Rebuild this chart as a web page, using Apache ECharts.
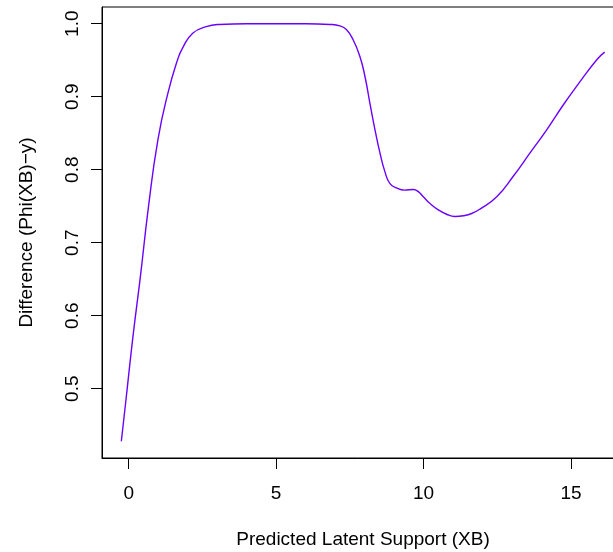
<!DOCTYPE html>
<html>
<head>
<meta charset="utf-8">
<script src="https://cdn.jsdelivr.net/npm/echarts@6/dist/echarts.min.js"></script>
<style>
  html, body { margin: 0; padding: 0; background: #fff; }
  #chart { width: 613px; height: 552px; }
</style>
</head>
<body>
<div id="chart"></div>
<script>
// Predicted latent support (XB) and the difference Phi(XB) - y along it
const xb = [-0.25, -0.09, 0.14, 0.40, 0.67, 0.99, 1.33, 1.66, 1.83, 2.17, 2.63, 3.08,
            4.0, 5.0, 6.0, 6.82, 7.16, 7.38, 7.61, 7.84, 8.01, 8.18, 8.35, 8.52, 8.69, 8.86,
            9.08, 9.36, 9.65, 9.82, 9.99, 10.21, 10.5, 10.78, 11.06, 11.35, 11.63, 11.91,
            12.48, 13.04, 13.61, 14.18, 14.74, 15.31, 15.88, 16.14];
const diff = [0.428, 0.486, 0.570, 0.655, 0.749, 0.841, 0.905, 0.951, 0.967, 0.987, 0.996, 0.999,
              1.0, 1.0, 1.0, 0.999, 0.997, 0.992, 0.978, 0.955, 0.928, 0.891, 0.855, 0.823, 0.797, 0.781,
              0.775, 0.772, 0.773, 0.770, 0.763, 0.754, 0.745, 0.739, 0.736, 0.737, 0.740, 0.746,
              0.763, 0.791, 0.823, 0.855, 0.889, 0.921, 0.951, 0.961];

// Tick positions on each axis
const xTicks = [0, 5, 10, 15];
const yTicks = [0.5, 0.6, 0.7, 0.8, 0.9, 1.0];

// Axis ranges padded by 4% of the data range on each side
const pad = (lo, hi) => { const d = (hi - lo) * 0.04; return [lo - d, hi + d]; };
const xRange = pad(Math.min(...xb), Math.max(...xb));
const yRange = pad(Math.min(...diff), Math.max(...diff));

const FONT = '"Liberation Sans", Arial, Helvetica, sans-serif';
const FS = 19;

const chart = echarts.init(document.getElementById('chart'), null, { renderer: 'canvas' });
chart.setOption({
  animation: false,
  backgroundColor: '#ffffff',
  grid: {
    left: 102, top: 7, width: 522, height: 451,
    outerBoundsMode: 'none', containLabel: false,
    show: true, borderColor: '#000', borderWidth: 1, backgroundColor: 'transparent'
  },
  xAxis: {
    type: 'value',
    min: xRange[0], max: xRange[1],
    name: 'Predicted Latent Support (XB)',
    nameLocation: 'middle', nameGap: 72,
    nameTextStyle: { fontFamily: FONT, fontSize: FS, color: '#000' },
    axisLine: { show: true, onZero: false, lineStyle: { color: '#000', width: 1 } },
    splitLine: { show: false },
    axisTick: { show: true, inside: false, length: 11, customValues: xTicks,
                lineStyle: { color: '#000', width: 1 } },
    axisLabel: { show: true, margin: 26, customValues: xTicks,
                 fontFamily: FONT, fontSize: FS, color: '#000',
                 formatter: v => String(v) }
  },
  yAxis: {
    type: 'value',
    min: yRange[0], max: yRange[1],
    name: 'Difference (Phi(XB)\u2212y)',
    nameLocation: 'middle', nameGap: 66, nameRotate: 90,
    nameTextStyle: { fontFamily: FONT, fontSize: FS, color: '#000' },
    axisLine: { show: true, onZero: false, lineStyle: { color: '#000', width: 1 } },
    splitLine: { show: false },
    axisTick: { show: true, inside: false, length: 11, customValues: yTicks,
                lineStyle: { color: '#000', width: 1 } },
    axisLabel: { show: true, margin: 20, rotate: 90, customValues: yTicks,
                 fontFamily: FONT, fontSize: FS, color: '#000',
                 formatter: v => v.toFixed(1) }
  },
  series: [{
    type: 'line',
    data: xb.map((x, i) => [x, diff[i]]),
    showSymbol: false,
    smooth: 0.5,
    clip: true,
    lineStyle: { color: '#6a00ff', width: 1.4 }
  }]
});
</script>
</body>
</html>
